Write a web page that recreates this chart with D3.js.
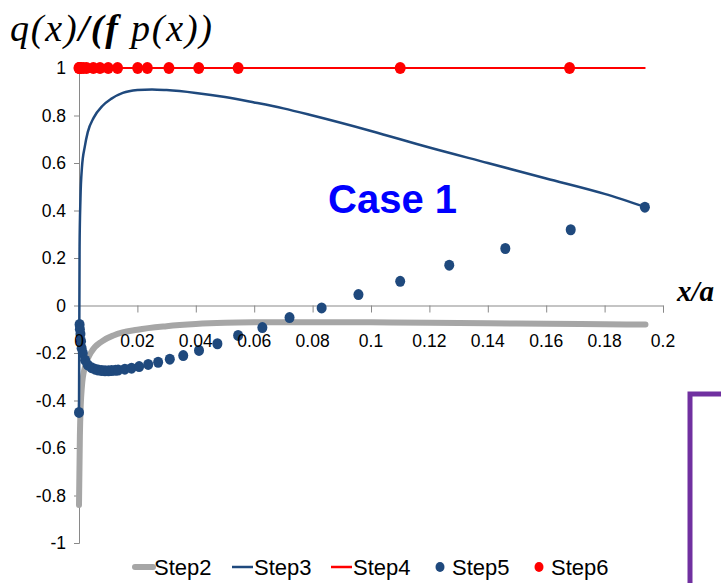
<!DOCTYPE html>
<html>
<head>
<meta charset="utf-8">
<script src="https://cdnjs.cloudflare.com/ajax/libs/d3/7.8.5/d3.min.js"></script>
<style>
  body { margin: 0; background: #fff; }
  svg { display: block; }
  text { font-family: "Liberation Sans", Arial, sans-serif; }
</style>
</head>
<body>
<div id="chart"></div>
<script>
/*global d3:true */

// tick labels
var xTicks = [0, 0.02, 0.04, 0.06, 0.08, 0.1, 0.12, 0.14, 0.16, 0.18, 0.2];
var yTicks = [1, 0.8, 0.6, 0.4, 0.2, 0, -0.2, -0.4, -0.6, -0.8, -1];

// Step2 (grey thick line)
var step2X = [0, 0.0003, 0.0006, 0.001, 0.002, 0.004, 0.008, 0.012, 0.02, 0.03, 0.04, 0.05, 0.06, 0.08, 0.1, 0.12, 0.14, 0.16, 0.18, 0.194];
var step2Y = [-0.84, -0.55, -0.42, -0.34, -0.26, -0.2, -0.15, -0.125, -0.102, -0.087, -0.078, -0.073, -0.071, -0.07, -0.071, -0.073, -0.075, -0.077, -0.079, -0.08];

// Step3 (dark blue line)
var step3X = [0, 0.0002, 0.0005, 0.001, 0.002, 0.003, 0.005, 0.008, 0.011, 0.015, 0.02, 0.025, 0.03, 0.04, 0.05, 0.06, 0.07, 0.08, 0.1, 0.12, 0.14, 0.16, 0.18, 0.194];
var step3Y = [-0.45, 0.25, 0.45, 0.58, 0.67, 0.73, 0.79, 0.84, 0.87, 0.895, 0.907, 0.91, 0.907, 0.895, 0.878, 0.855, 0.83, 0.8, 0.735, 0.665, 0.6, 0.535, 0.47, 0.414];

// Step4 (red line)
var step4X = [0, 0.194];
var step4Y = [1, 1];

// Step5 (dark blue markers)
var step5X = [0, 0.0002, 0.0003, 0.0005, 0.0007, 0.0009, 0.0013, 0.0021, 0.003, 0.0043, 0.0055, 0.0066, 0.0078, 0.0089, 0.0101, 0.0112, 0.0125, 0.0134, 0.0157, 0.018, 0.0206, 0.0237, 0.0271, 0.0311, 0.0357, 0.0411, 0.0474, 0.0545, 0.0628, 0.0721, 0.0831, 0.0957, 0.11, 0.1268, 0.146, 0.1684, 0.1938];
var step5Y = [-0.45, -0.08, -0.1, -0.12, -0.15, -0.18, -0.2, -0.23, -0.25, -0.262, -0.268, -0.272, -0.274, -0.275, -0.275, -0.274, -0.273, -0.272, -0.268, -0.264, -0.257, -0.248, -0.239, -0.226, -0.211, -0.189, -0.161, -0.126, -0.093, -0.051, -0.01, 0.046, 0.102, 0.17, 0.24, 0.319, 0.414];

// Step6 (red markers)
var step6X = [0, 0.0001, 0.0003, 0.0006, 0.0015, 0.0026, 0.0049, 0.0072, 0.01, 0.0132, 0.0201, 0.0234, 0.0308, 0.041, 0.0545, 0.11, 0.168];
var step6Y = [1, 1, 1, 1, 1, 1, 1, 1, 1, 1, 1, 1, 1, 1, 1, 1, 1];

var legendNames = ["Step2", "Step3", "Step4", "Step5", "Step6"];

var width = 721,
  height = 583,
  blue = "#1f497d",
  grey = "#a6a6a6",
  red = "#ff0000",
  axisGrey = "#898989";

function zip(xs, ys) {
  return xs.map(function (x, i) { return {x: x, y: ys[i]}; });
}

var svg = d3.select("#chart").append("svg")
  .attr("width", width)
  .attr("height", height);

var x = d3.scaleLinear().domain([0, 0.2]).range([79, 663]);
var y = d3.scaleLinear().domain([-1, 1]).range([543, 68]);

var line = d3.line()
  .x(function (d) { return x(d.x); })
  .y(function (d) { return y(d.y); })
  .curve(d3.curveMonotoneX);

var plot = svg.append("g");

plot.append("path")
  .datum(zip(step2X, step2Y))
  .attr("d", line)
  .attr("fill", "none")
  .attr("stroke", grey)
  .attr("stroke-width", 6)
  .attr("stroke-linecap", "round");

plot.append("path")
  .datum(zip(step3X, step3Y))
  .attr("d", line)
  .attr("fill", "none")
  .attr("stroke", blue)
  .attr("stroke-width", 2.5);

plot.append("path")
  .datum(zip(step4X, step4Y))
  .attr("d", d3.line().x(function (d) { return x(d.x); }).y(function (d) { return y(d.y); }))
  .attr("fill", "none")
  .attr("stroke", red)
  .attr("stroke-width", 2);

plot.append("g").selectAll("ellipse")
  .data(zip(step5X, step5Y))
  .join("ellipse")
  .attr("cx", function (d) { return x(d.x); })
  .attr("cy", function (d) { return y(d.y); })
  .attr("rx", 5)
  .attr("ry", 5.5)
  .attr("fill", blue);

plot.append("g").selectAll("ellipse")
  .data(zip(step6X, step6Y))
  .join("ellipse")
  .attr("cx", function (d) { return x(d.x); })
  .attr("cy", function (d) { return y(d.y); })
  .attr("rx", 5.5)
  .attr("ry", 6)
  .attr("fill", red);

// axes sit under the series
var yAxis = svg.insert("g", ":first-child")
  .attr("transform", "translate(" + x(0) + ",0)")
  .call(d3.axisLeft(y).tickValues(yTicks).tickSize(5).tickPadding(8)
    .tickFormat(function (d) { return d3.format("")(d).replace("−", "-"); }));

var xAxis = svg.insert("g", ":first-child")
  .attr("transform", "translate(0," + y(0) + ")")
  .call(d3.axisBottom(x).tickValues(xTicks).tickSize(7).tickPadding(19));

[xAxis, yAxis].forEach(function (g) {
  g.select(".domain").attr("stroke", axisGrey);
  g.selectAll(".tick line").attr("stroke", axisGrey);
  g.selectAll(".tick text")
    .attr("fill", "#000")
    .style("font-size", "17.5px")
    .style("font-family", "'Liberation Sans', Arial, sans-serif");
});

// x tick labels drawn over the series, the "0" sits on the markers
xAxis.selectAll(".tick text").remove();
svg.append("g").selectAll("text")
  .data(xTicks)
  .join("text")
  .attr("x", function (d) { return x(d); })
  .attr("y", y(0) + 41)
  .attr("text-anchor", "middle")
  .style("font-size", "17.5px")
  .text(function (d) { return d === 0 ? "0" : d3.format("")(d); });

// title
var title = svg.append("text")
  .attr("x", 10)
  .attr("y", 41)
  .style("font-family", "'Liberation Serif', 'Times New Roman', serif")
  .style("font-style", "italic")
  .style("font-size", "38px")
  .style("letter-spacing", "1.8px");
title.append("tspan").text("q(x)");
title.append("tspan").style("font-weight", "bold").text("/(");
title.append("tspan").style("font-weight", "bold").text("f");
title.append("tspan").text(" p(x))");

svg.append("text")
  .attr("x", 677)
  .attr("y", 301)
  .style("font-family", "'Liberation Serif', 'Times New Roman', serif")
  .style("font-style", "italic")
  .style("font-weight", "bold")
  .style("font-size", "29px")
  .text("x/a");

svg.append("text")
  .attr("x", 328)
  .attr("y", 213)
  .attr("fill", "#0000ff")
  .style("font-weight", "bold")
  .style("font-size", "40px")
  .text("Case 1");

// purple box in the corner
svg.append("rect")
  .attr("x", 690)
  .attr("y", 394)
  .attr("width", 60)
  .attr("height", 220)
  .attr("fill", "#fff")
  .attr("stroke", "#7030a0")
  .attr("stroke-width", 5);

// legend
var legendX = [132, 232, 331, 433, 532];
var legend = svg.append("g");
legendNames.forEach(function (name, i) {
  var g = legend.append("g").attr("transform", "translate(" + legendX[i] + ",567)");
  if (i === 0) {
    g.append("line").attr("x1", 3).attr("x2", 21).attr("stroke", grey)
      .attr("stroke-width", 6).attr("stroke-linecap", "round");
  } else if (i < 3) {
    g.append("line").attr("x1", 0).attr("x2", 21)
      .attr("stroke", i === 1 ? blue : red).attr("stroke-width", 2.5);
  } else {
    g.append("ellipse").attr("cx", 7).attr("cy", 0).attr("rx", 4.5).attr("ry", 5)
      .attr("fill", i === 3 ? blue : red);
  }
  g.append("text")
    .attr("x", i < 3 ? 22 : 19)
    .attr("y", 8)
    .style("font-size", "22px")
    .text(name);
});
</script>
</body>
</html>
